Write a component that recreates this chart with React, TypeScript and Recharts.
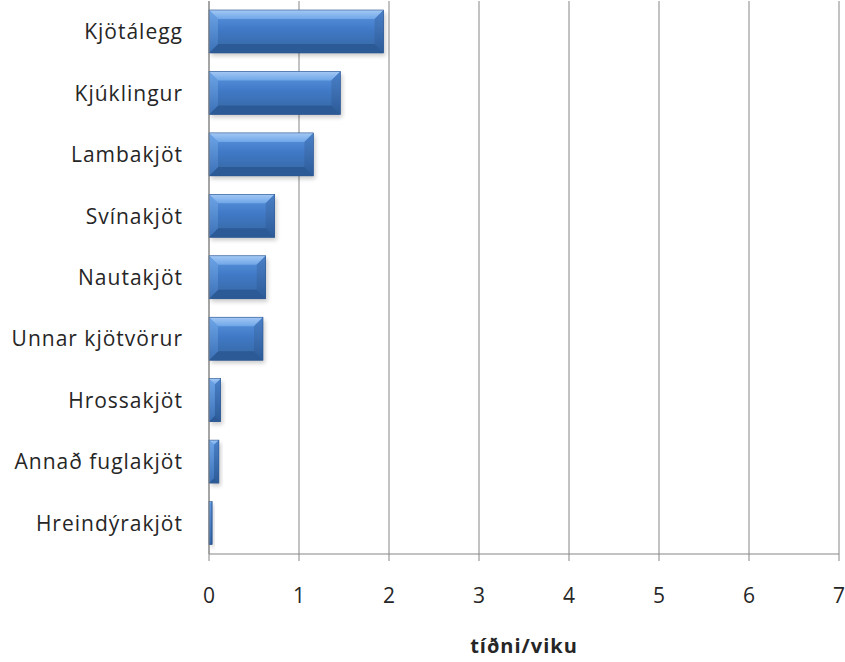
import { Bar, BarChart, CartesianGrid, XAxis, YAxis } from 'recharts'

const categories = [
  'Kjötálegg',
  'Kjúklingur',
  'Lambakjöt',
  'Svínakjöt',
  'Nautakjöt',
  'Unnar kjötvörur',
  'Hrossakjöt',
  'Annað fuglakjöt',
  'Hreindýrakjöt',
]
const frequency = [1.94, 1.46, 1.16, 0.73, 0.63, 0.6, 0.13, 0.11, 0.035]
const xTicks = [0, 1, 2, 3, 4, 5, 6, 7]

const data = categories.map((name, i) => ({ name, value: frequency[i] }))

const FONT = '"Open Sans", Lato, sans-serif'
const TEXT = '#262626'
const AXIS = '#868686'

function BevelBar(props: any) {
  const { x, y, width, height } = props
  if (!width || width <= 0) return null
  const b = Math.min(9, width / 2, height / 2)
  const r = x + width
  const btm = y + height
  return (
    <g>
      <rect x={x + 2} y={y + 3} width={width} height={height} fill="#000" opacity={0.2} filter="url(#barShadow)" />
      <rect x={x} y={y} width={width} height={height} fill="url(#barFace)" />
      <polygon points={`${x},${y} ${r},${y} ${r - b},${y + b} ${x + b},${y + b}`} fill="url(#barTop)" />
      <polygon points={`${r},${y} ${r},${btm} ${r - b},${btm - b} ${r - b},${y + b}`} fill="url(#barRight)" />
      <polygon points={`${x},${btm} ${r},${btm} ${r - b},${btm - b} ${x + b},${btm - b}`} fill="#2c5a96" />
      <polygon points={`${x},${y} ${x + b},${y + b} ${x + b},${btm - b} ${x},${btm}`} fill="url(#barLeft)" />
      <rect x={x} y={y} width={width} height={height} fill="none" stroke="#2b5590" strokeWidth={0.6} />
    </g>
  )
}

export default function App() {
  return (
    <div style={{ position: 'absolute', left: 0, top: 0, width: 845, height: 662, background: '#fff' }}>
      <BarChart
        width={845}
        height={662}
        data={data}
        layout="vertical"
        margin={{ top: 1, right: 6, bottom: 0, left: 0 }}
      >
        <defs>
          <linearGradient id="barFace" x1="0" y1="0" x2="0" y2="1">
            <stop offset="0%" stopColor="#5d97e0" />
            <stop offset="45%" stopColor="#4079c6" />
            <stop offset="100%" stopColor="#34669f" />
          </linearGradient>
          <linearGradient id="barTop" x1="0" y1="0" x2="0" y2="1">
            <stop offset="0%" stopColor="#a4c9f4" />
            <stop offset="100%" stopColor="#6fa6e8" />
          </linearGradient>
          <linearGradient id="barRight" x1="0" y1="0" x2="0" y2="1">
            <stop offset="0%" stopColor="#4a80c8" />
            <stop offset="100%" stopColor="#2d5b98" />
          </linearGradient>
          <linearGradient id="barLeft" x1="0" y1="0" x2="0" y2="1">
            <stop offset="0%" stopColor="#6ea5e8" />
            <stop offset="100%" stopColor="#3b70b6" />
          </linearGradient>
          <filter id="barShadow" x="-10%" y="-20%" width="130%" height="160%">
            <feGaussianBlur stdDeviation="2" />
          </filter>
        </defs>
        <CartesianGrid horizontal={false} stroke={AXIS} strokeWidth={1} />
        <XAxis
          type="number"
          domain={[0, 7]}
          ticks={xTicks}
          interval={0}
          height={108}
          stroke={AXIS}
          tickSize={7}
          tickMargin={27}
          tick={{ fontSize: 21, fill: TEXT, fontFamily: FONT }}
          label={{
            value: 'tíðni/viku',
            position: 'insideBottom',
            offset: 9,
            style: { fontSize: 20, fontWeight: 700, fill: TEXT, fontFamily: FONT, letterSpacing: 1 },
          }}
        />
        <YAxis
          type="category"
          dataKey="name"
          width={209}
          stroke={AXIS}
          tickLine={false}
          tickSize={0}
          tickMargin={26}
          tick={{ fontSize: 21, fill: TEXT, fontFamily: FONT, letterSpacing: 1 }}
        />
        <Bar dataKey="value" barSize={43} shape={<BevelBar />} isAnimationActive={false} />
      </BarChart>
    </div>
  )
}
